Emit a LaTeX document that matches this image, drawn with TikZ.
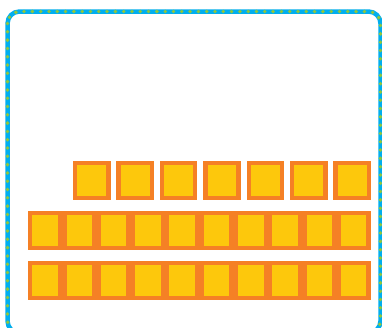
\documentclass[tikz,border=0pt]{standalone}
\definecolor{sqfill}{HTML}{FDC80C}
\definecolor{sqline}{HTML}{F58025}
\definecolor{framec}{HTML}{00AEEF}
\definecolor{dotc}{HTML}{8DC63F}
\tikzset{
  bigsq/.style={draw=sqline, fill=sqfill, line width=4.4pt, inner sep=0pt, outer sep=0pt,
    minimum width=33.1pt, minimum height=34.9pt},
  smallsq/.style={draw=sqline, fill=sqfill, line width=4.4pt, inner sep=0pt, outer sep=0pt,
    minimum width=29.9pt, minimum height=34.9pt},
  framebase/.style={draw=framec, line width=4.5pt, rounded corners=12pt},
  framedots/.style={draw=dotc, line width=3.8pt, rounded corners=12pt, line cap=round,
    dash pattern=on 0pt off 8.3pt}
}
\begin{document}
\begin{tikzpicture}[x=1pt,y=-1pt]
\useasboundingbox (0,0) rectangle (382,327);
\fill[white] (0,0) rectangle (382,327);
\draw[framebase] (7.5,11.5) rectangle (380.5,333);
\draw[framedots] (7.5,11.5) rectangle (380.5,333);
\foreach \i in {0,...,6} {
  \node[bigsq] (t\i) at ({91.75+43.4*\i},180.35) {};
}
\foreach \i in {0,...,9} {
  \node[smallsq] (m\i) at ({45.15+34.27*\i},230.35) {};
  \node[smallsq] (b\i) at ({45.15+34.27*\i},280.35) {};
}
\end{tikzpicture}
\end{document}
